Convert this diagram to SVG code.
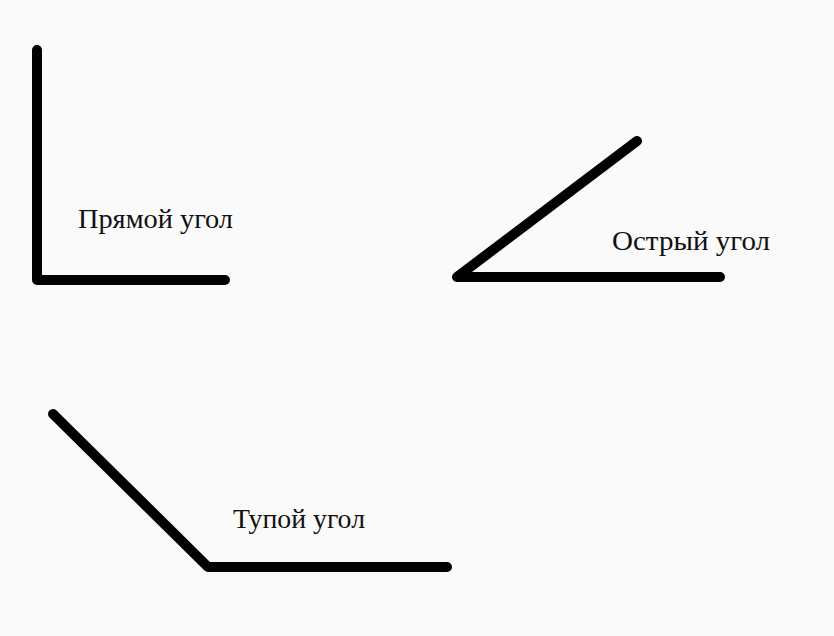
<svg xmlns="http://www.w3.org/2000/svg" width="834" height="636" viewBox="0 0 834 636">
<style>
.ln{fill:none;stroke:#000;stroke-width:10;stroke-linecap:round;stroke-linejoin:round}
.lb{font-family:"Liberation Serif","DejaVu Serif",serif;font-size:28px;fill:#111}
</style>
<rect width="834" height="636" fill="#fafafa"/>
<g id="connectors">
<polyline id="right" class="ln" points="37,50 37,280 225,280"/>
<polyline id="acute" class="ln" points="637,141 457,277 720,277"/>
<polyline id="obtuse" class="ln" points="53,414 208,567 447,567"/>
</g>
<g id="label-right"><text class="lb" x="78" y="228" textLength="155" lengthAdjust="spacingAndGlyphs">Прямой угол</text></g>
<g id="label-acute"><text class="lb" x="612" y="250" textLength="158" lengthAdjust="spacingAndGlyphs">Острый угол</text></g>
<g id="label-obtuse"><text class="lb" x="233" y="528" textLength="132" lengthAdjust="spacingAndGlyphs">Тупой угол</text></g>
</svg>
